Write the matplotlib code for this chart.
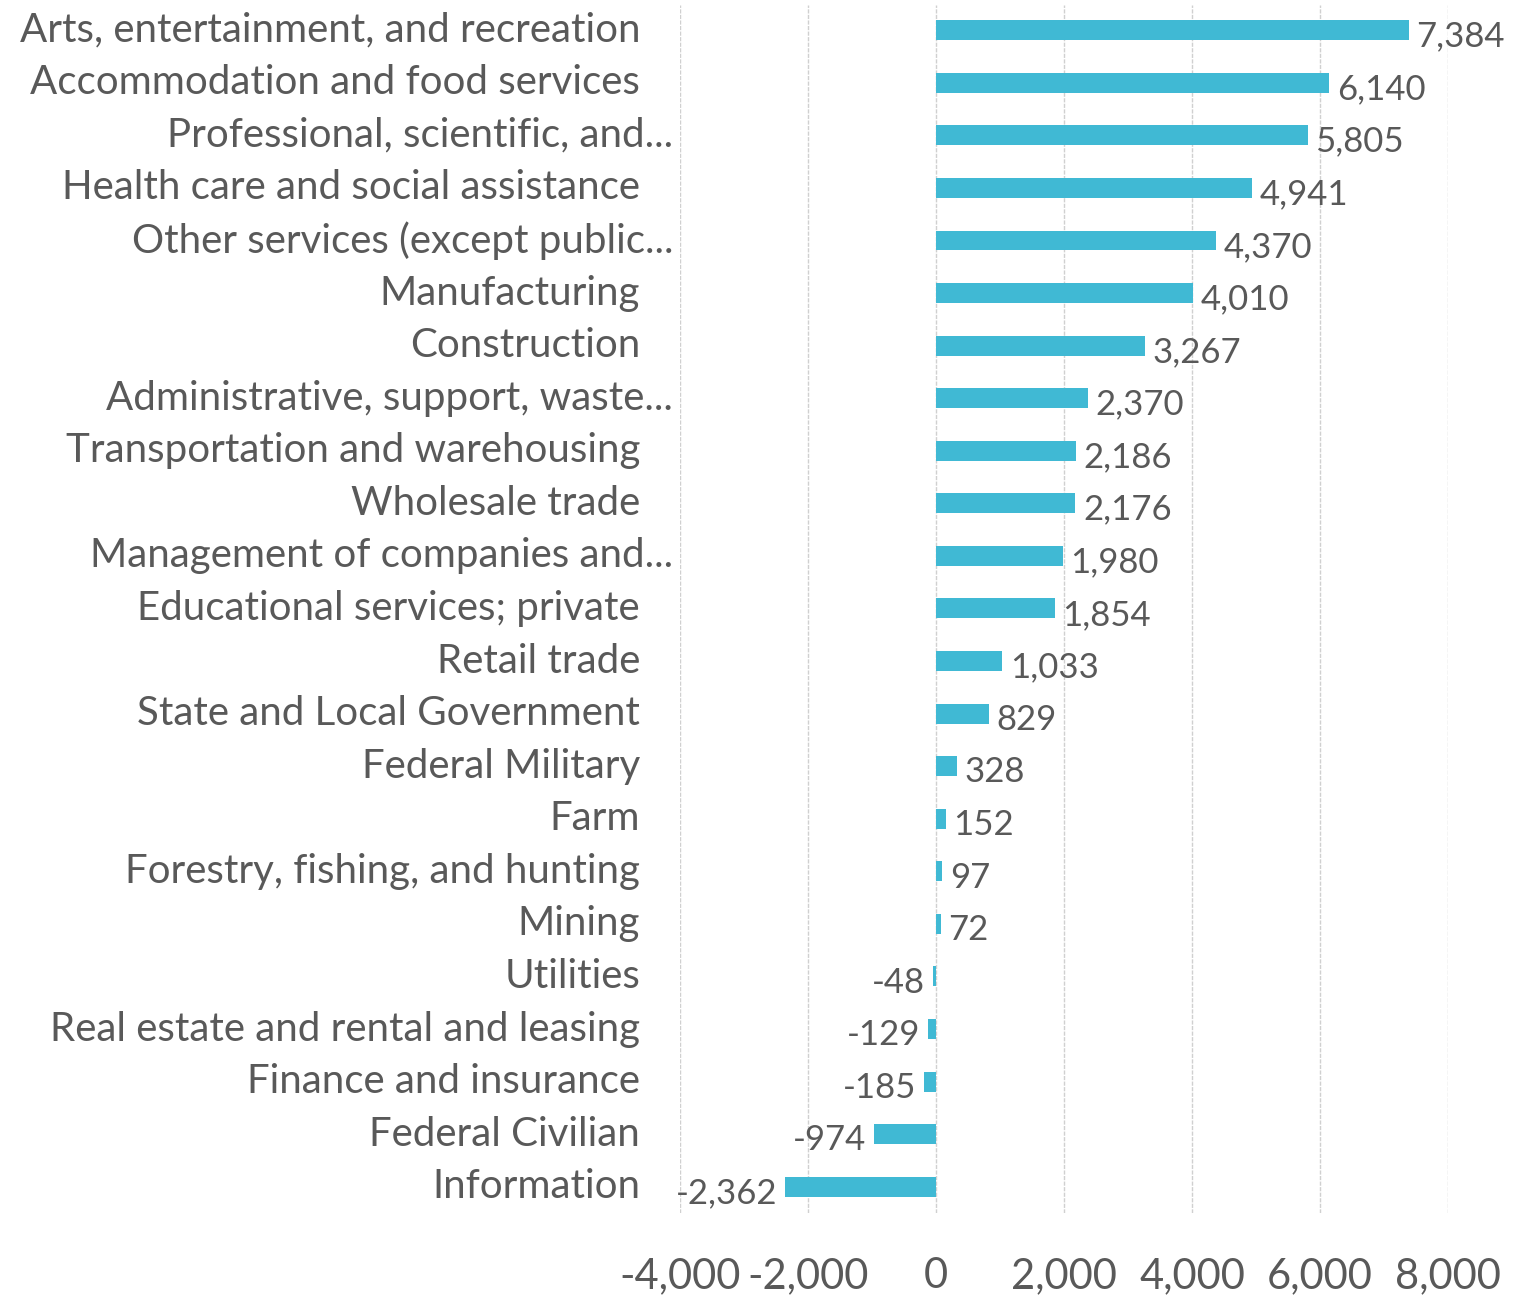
import matplotlib
matplotlib.use("Agg")
import matplotlib.pyplot as plt
import matplotlib.transforms as mtransforms

categories = [
    "Arts, entertainment, and recreation",
    "Accommodation and food services",
    "Professional, scientific, and...",
    "Health care and social assistance",
    "Other services (except public...",
    "Manufacturing",
    "Construction",
    "Administrative, support, waste...",
    "Transportation and warehousing",
    "Wholesale trade",
    "Management of companies and...",
    "Educational services; private",
    "Retail trade",
    "State and Local Government",
    "Federal Military",
    "Farm",
    "Forestry, fishing, and hunting",
    "Mining",
    "Utilities",
    "Real estate and rental and leasing",
    "Finance and insurance",
    "Federal Civilian",
    "Information",
]
values = [7384, 6140, 5805, 4941, 4370, 4010, 3267, 2370, 2186, 2176, 1980,
          1854, 1033, 829, 328, 152, 97, 72, -48, -129, -185, -974, -2362]
xticks = [-4000, -2000, 0, 2000, 4000, 6000, 8000]

plt.rcParams['font.family'] = ['Lato', 'DejaVu Sans']
text_color = "#595959"
bar_color = "#40B9D4"

fig = plt.figure(figsize=(15.24, 13.0), dpi=100)
ax = fig.add_axes([680/1524, 1 - 1213/1300, 768/1524, 1208/1300])

ypos = list(range(len(categories)))
ax.barh(ypos, values, height=0.38, color=bar_color, zorder=3)

ax.set_xlim(-4000, 8000)
ax.set_ylim(len(categories) - 0.5, -0.48)
ax.set_xticks(xticks)
ax.set_xticklabels([f"{v:,}" for v in xticks], fontsize=30, color=text_color)
ax.tick_params(axis='x', length=0, pad=32)
ax.set_yticks([])
ax.grid(axis='x', color="#D0D0D0", linewidth=1.0, linestyle=(0, (3, 1)), zorder=0)
for s in ax.spines.values():
    s.set_visible(False)

trans = mtransforms.blended_transform_factory(ax.transAxes, ax.transData)
for y, cat in zip(ypos, categories):
    xa = -0.009 if cat.endswith("...") else -0.052
    ax.text(xa, y, cat, transform=trans, ha='right', va='center',
            fontsize=29, color=text_color)

for y, v in zip(ypos, values):
    if v >= 0:
        ax.text(v + 120, y + 0.12, f"{v:,}", ha='left', va='center',
                fontsize=25, color=text_color)
    else:
        ax.text(v - 120, y + 0.12, f"{v:,}", ha='right', va='center',
                fontsize=25, color=text_color)

fig.savefig("out.png", dpi=100)
